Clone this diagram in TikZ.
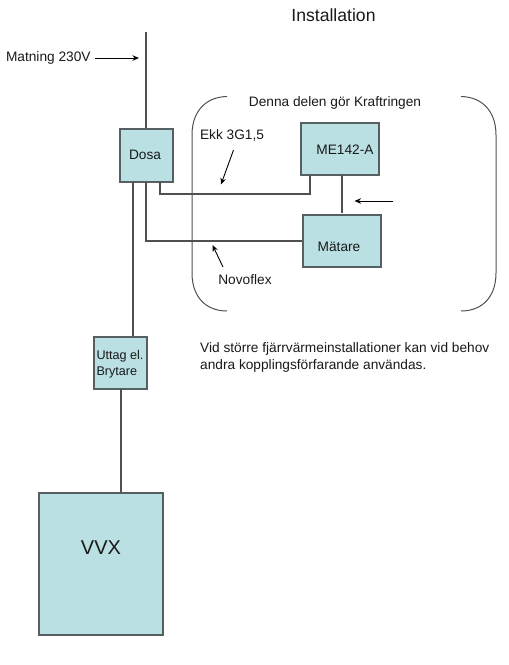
\documentclass[tikz,border=0pt]{standalone}
\usepackage{fontspec}
\setmainfont{Liberation Sans}
\usetikzlibrary{arrows.meta}
\definecolor{boxfill}{HTML}{BAE0E3}
\definecolor{boxline}{HTML}{566062}
\definecolor{wire}{HTML}{505050}
\tikzset{
  unit/.style={draw=boxline,fill=boxfill,line width=1.4pt,inner sep=0pt,minimum width=#1},
  wireline/.style={draw=wire,line width=1.4pt},
  pointer/.style={draw=black,line width=0.9pt,-{Stealth[length=6.5pt,width=5.5pt]}},
  bracket/.style={draw=wire,line width=1pt},
  lbl/.style={inner sep=0pt,font=\fontsize{13.7}{16.5}\selectfont,text=black!90},
}
\begin{document}
\begin{tikzpicture}[x=1pt,y=-1pt]
\useasboundingbox (0,0) rectangle (509,665);
% brackets
\coordinate (bl1) at (227,96.5);
\coordinate (bl2) at (227,311);
\coordinate (br1) at (461,96.5);
\coordinate (br2) at (461,311);
\draw[bracket] (bl1) .. controls (205,97) and (192,112) .. (192,135) -- (192,273) .. controls (192,296) and (205,311) .. (bl2);
\draw[bracket] (br1) .. controls (483,97) and (496,112) .. (496,135) -- (496,273) .. controls (496,296) and (483,311) .. (br2);
% boxes
\node[unit=53pt,minimum height=53pt] (dosa) at (146.5,155.5) {};
\node[unit=78pt,minimum height=52pt] (me) at (340,149) {};
\node[unit=78pt,minimum height=52pt] (matare) at (342,241) {};
\node[unit=53pt,minimum height=52pt] (uttag) at (120.5,363) {};
\node[unit=124pt,minimum height=142pt] (vvx) at (101,564) {};
% box texts
\node[lbl] (tdosa) at (145,155) {Dosa};
\node[lbl] (tme) at (345,150) {ME142-A};
\node[lbl] (tmatare) at (339,247) {Mätare};
\node[lbl,font=\fontsize{12.6}{16}\selectfont,align=left,anchor=west] (tuttag) at (96.3,364) {Uttag el.\\Brytare};
\node[inner sep=0pt,font=\fontsize{20}{24}\selectfont,text=black!90] (tvvx) at (101,548) {VVX};
% wires
\coordinate (top) at (146,32);
\coordinate (dosaA) at (133,182);
\coordinate (dosaB) at (146,182);
\coordinate (dosaC) at (160,182);
\coordinate (meA) at (310,175);
\coordinate (meB) at (342,175);
\coordinate (matTop) at (342,213);
\coordinate (uttagS) at (121,389);
\draw[wireline] (top) -- (top |- dosa.north);
\draw[wireline] (dosaA) -- (dosaA |- uttag.north);
\draw[wireline] (dosaB) |- (matare.west);
\draw[wireline] (dosaC) -- (160,194) -| (meA);
\draw[wireline] (meB) -- (matTop);
\draw[wireline] (uttagS) -- (uttagS |- vvx.north);
% labels
\node[inner sep=0pt,font=\fontsize{17.6}{20}\selectfont,text=black!90] (title) at (333.5,15.5) {Installation};
\node[lbl] (lmat) at (48.3,58) {Matning 230V};
\node[lbl] (lkraft) at (335,103) {Denna delen gör Kraftringen};
\node[lbl] (lekk) at (232,135) {Ekk 3G1,5};
\node[lbl] (lnovo) at (245,279.5) {Novoflex};
\node[lbl,align=left,anchor=north west] (lvid) at (200,342.5) {Vid större fjärrvärmeinstallationer kan vid behov\\andra kopplingsförfarande användas.};
% pointers
\coordinate (p1a) at (95,58); \coordinate (p1b) at (139,58);
\coordinate (p2a) at (233.5,150); \coordinate (p2b) at (221,184.5);
\coordinate (p3a) at (393,201); \coordinate (p3b) at (354.5,201);
\coordinate (p4a) at (223,267); \coordinate (p4b) at (212.5,245);
\draw[pointer] (p1a) -- (p1b);
\draw[pointer] (p2a) -- (p2b);
\draw[pointer] (p3a) -- (p3b);
\draw[pointer] (p4a) -- (p4b);
\end{tikzpicture}
\end{document}
